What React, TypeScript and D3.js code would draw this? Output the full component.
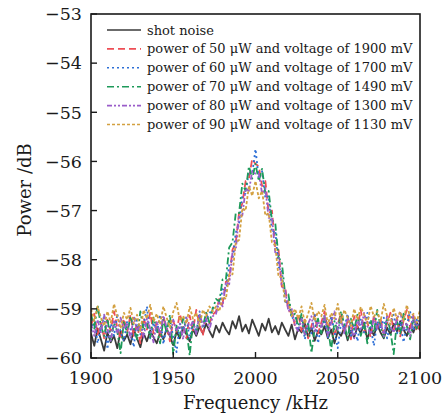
import React from "react";
import * as d3 from "d3";

const freqs: number[] = d3.range(1900, 2101, 2);

const shotNoise = [
  -59.50,-59.75,-59.40,-59.62,-59.85,-59.48,-59.68,-59.55,-59.80,-59.45,
  -59.65,-59.52,-59.72,-59.42,-59.60,-59.78,-59.50,-59.66,-59.44,-59.58,
  -59.70,-59.48,-59.62,-59.40,-59.56,-59.74,-59.46,-59.60,-59.38,-59.52,
  -59.66,-59.42,-59.55,-59.36,-59.50,-59.30,-59.45,-59.58,-59.34,-59.48,
  -59.28,-59.42,-59.52,-59.25,-59.40,-59.15,-59.46,-59.32,-59.50,-59.22,
  -59.38,-59.55,-59.30,-59.44,-59.20,-59.48,-59.35,-59.52,-59.28,-59.42,
  -59.55,-59.32,-59.62,-59.40,-59.48,-59.30,-59.58,-59.38,-59.65,-59.45,
  -59.52,-59.35,-59.60,-59.42,-59.70,-59.46,-59.55,-59.38,-59.64,-59.44,
  -59.58,-59.36,-59.50,-59.28,-59.62,-59.40,-59.54,-59.32,-59.48,-59.60,
  -59.38,-59.52,-59.30,-59.46,-59.25,-59.42,-59.55,-59.34,-59.48,-59.28,-59.44,
];

const power50 = [
  -59.35,-59.10,-59.52,-59.28,-59.60,-59.22,-59.45,-59.05,-59.38,-59.62,
  -59.20,-59.48,-59.12,-59.55,-59.30,-59.70,-59.18,-59.42,-59.08,-59.50,
  -59.27,-59.58,-59.15,-59.40,-59.66,-59.24,-59.46,-59.10,-59.36,-59.60,
  -59.14,-59.44,-59.02,-59.32,-59.55,-59.08,-59.30,-59.12,
  -59.05,-58.80,-58.90,-58.45,-58.40,-57.80,-57.65,-57.05,-56.85,-56.40,-56.35,-55.95,
  -56.05,-56.10,-56.50,-56.40,-57.05,-57.00,-57.75,-57.80,-58.55,-58.55,-59.05,-59.05,-59.35,
  -59.10,-59.45,-59.22,-59.60,-59.35,-59.12,-59.50,
  -59.28,-59.05,-59.42,-59.18,-59.55,-59.32,-59.08,-59.46,-59.25,-59.62,
  -59.15,-59.38,-59.02,-59.48,-59.26,-59.58,-59.12,-59.40,-59.20,-59.52,
  -59.30,-59.08,-59.44,-59.18,-59.56,-59.24,-59.02,-59.38,-59.14,-59.46,-59.28,
];

const power60 = [
  -59.45,-59.20,-59.70,-59.38,-59.15,-59.82,-59.30,-59.55,-59.10,-59.48,
  -59.65,-59.25,-59.40,-59.78,-59.18,-59.52,-59.34,-58.95,-59.60,-59.28,
  -59.50,-59.12,-59.72,-59.36,-59.22,-59.58,-59.88,-59.30,-59.44,-59.16,
  -59.62,-59.26,-59.48,-59.05,-59.40,-59.20,-59.10,-58.98,
  -58.95,-58.95,-58.60,-58.65,-58.10,-58.00,-57.45,-57.25,-56.70,-56.65,-56.20,-56.25,
  -55.75,-56.35,-56.20,-56.75,-56.70,-57.45,-57.40,-58.15,-58.20,-58.90,-58.80,-59.20,-59.15,
  -59.40,-59.18,-59.62,-59.30,-59.50,-59.12,-59.70,
  -59.35,-59.22,-59.58,-59.15,-59.45,-59.80,-59.28,-59.40,-59.10,-59.55,
  -59.32,-59.66,-59.20,-59.48,-59.08,-59.38,-59.75,-59.25,-59.42,-59.18,
  -59.60,-59.30,-59.12,-59.50,-59.26,-59.68,-59.34,-59.05,-59.44,-59.22,-59.36,
];

const power70 = [
  -59.10,-59.40,-58.92,-59.35,-59.55,-59.20,-59.65,-59.28,-59.46,-59.90,
  -59.25,-59.50,-59.15,-59.38,-59.62,-59.05,-59.44,-59.30,-59.58,-59.18,
  -59.40,-59.70,-59.22,-59.48,-59.12,-59.92,-59.34,-59.56,-59.20,-59.42,
  -59.95,-59.26,-59.50,-59.16,-59.36,-59.08,-59.28,-59.00,
  -58.80,-58.85,-58.40,-58.40,-57.75,-57.65,-57.05,-57.05,-56.45,-56.60,-56.10,-56.35,
  -56.05,-56.40,-56.15,-56.65,-56.60,-57.20,-57.25,-57.95,-58.05,-58.70,-58.70,-59.15,-59.10,
  -59.35,-59.10,-59.55,-59.28,-59.90,-59.40,-59.20,
  -59.50,-59.15,-59.38,-59.85,-59.25,-59.46,-59.05,-59.32,-59.60,-59.20,
  -59.42,-59.12,-59.55,-59.30,-59.70,-59.22,-59.48,-59.02,-59.36,-59.58,
  -59.18,-59.44,-59.92,-59.26,-59.50,-59.10,-59.35,-59.62,-59.20,-59.40,-59.15,
];

const power80 = [
  -59.30,-59.55,-59.22,-59.48,-59.12,-59.40,-59.65,-59.25,-59.50,-59.18,
  -59.42,-59.28,-59.60,-59.15,-59.45,-59.32,-59.58,-59.20,-59.40,-59.68,
  -59.26,-59.50,-59.14,-59.38,-59.55,-59.22,-59.46,-59.30,-59.62,-59.18,
  -59.40,-59.24,-59.52,-59.10,-59.35,-59.20,-59.42,-59.15,
  -59.10,-58.85,-58.95,-58.45,-58.50,-57.85,-57.80,-57.10,-57.10,-56.55,-56.60,-56.20,
  -56.25,-56.25,-56.65,-56.55,-57.15,-57.15,-57.85,-57.90,-58.55,-58.60,-59.05,-59.00,-59.35,
  -59.45,-59.20,-59.52,-59.30,-59.15,-59.48,-59.25,
  -59.40,-59.12,-59.55,-59.28,-59.05,-59.42,-59.22,-59.50,-59.16,-59.38,
  -59.60,-59.20,-59.44,-59.08,-59.35,-59.52,-59.18,-59.40,-59.25,-59.56,
  -59.14,-59.36,-59.48,-59.20,-59.05,-59.42,-59.28,-59.55,-59.16,-59.34,-59.22,
];

const power90 = [
  -59.00,-59.25,-58.95,-59.18,-59.35,-59.05,-59.28,-58.90,-59.15,-59.40,
  -59.08,-59.22,-58.98,-59.30,-59.12,-59.45,-59.02,-59.20,-58.92,-59.26,
  -59.10,-59.32,-58.95,-59.18,-59.38,-59.06,-58.88,-59.24,-59.14,-59.30,
  -58.96,-59.20,-59.08,-59.34,-59.02,-59.15,-58.95,-59.05,
  -58.95,-59.05,-58.75,-58.80,-58.30,-58.30,-57.65,-57.60,-56.95,-57.00,-56.50,-56.70,
  -56.40,-56.75,-56.60,-57.10,-57.05,-57.65,-57.70,-58.35,-58.35,-58.85,-58.85,-59.15,-59.00,
  -59.20,-58.95,-59.30,-59.10,-58.88,-59.25,-59.05,
  -59.15,-58.92,-59.32,-59.08,-59.20,-58.90,-59.28,-59.02,-59.18,-59.35,
  -59.00,-59.22,-58.96,-59.12,-59.30,-58.94,-59.16,-59.05,-59.26,-58.90,
  -59.14,-59.32,-58.98,-59.20,-59.06,-59.24,-58.92,-59.18,-59.10,-59.28,-59.02,
];

const seriesLabels = [
  "shot noise",
  "power of 50 \u03bcW and voltage of 1900 mV",
  "power of 60 \u03bcW and voltage of 1700 mV",
  "power of 70 \u03bcW and voltage of 1490 mV",
  "power of 80 \u03bcW and voltage of 1300 mV",
  "power of 90 \u03bcW and voltage of 1130 mV",
];
const seriesValues = [shotNoise, power50, power60, power70, power80, power90];
const seriesColors = ["#3a3a3a", "#ee4e55", "#2d6fd6", "#1e9a5a", "#9a5cc9", "#d3a040"];
const seriesDash = ["none", "7,4", "2,3", "7,3,2,3", "5,2,2,2,2,2", "3,2"];

const xTicks = [1900, 1950, 2000, 2050, 2100];
const yTicks = [-60, -59, -58, -57, -56, -55, -54, -53];

const W = 446;
const H = 419;
const M = { left: 91, right: 420, top: 14, bottom: 358 };
const FONT = "'DejaVu Serif', serif";

export default function App() {
  const x = d3.scaleLinear().domain([1900, 2100]).range([M.left, M.right]);
  const y = d3.scaleLinear().domain([-60, -53]).range([M.bottom, M.top]);
  const line = d3
    .line<number>()
    .x((_, i) => x(freqs[i]))
    .y((d) => y(d));

  return (
    <svg
      width={W}
      height={H}
      style={{ position: "absolute", left: 0, top: 0, background: "#fff" }}
      fontFamily={FONT}
    >
      <defs>
        <clipPath id="plotclip">
          <rect x={M.left} y={M.top} width={M.right - M.left} height={M.bottom - M.top} />
        </clipPath>
      </defs>
      <g clipPath="url(#plotclip)">
        {seriesValues.map((vals, k) => (
          <path
            key={k}
            d={line(vals) || ""}
            fill="none"
            stroke={seriesColors[k]}
            strokeWidth={1.8}
            strokeDasharray={seriesDash[k] === "none" ? undefined : seriesDash[k]}
            strokeLinejoin="round"
          />
        ))}
      </g>
      <rect
        x={M.left}
        y={M.top}
        width={M.right - M.left}
        height={M.bottom - M.top}
        fill="none"
        stroke="#1a1a1a"
        strokeWidth={1.6}
      />
      {yTicks.map((t) => (
        <g key={"y" + t}>
          <line x1={M.left} x2={M.left + 6} y1={y(t)} y2={y(t)} stroke="#1a1a1a" strokeWidth={1.4} />
          <text x={M.left - 9} y={y(t)} dy="0.36em" textAnchor="end" fontSize={17.5} fill="#1a1a1a">
            {"\u2212" + Math.abs(t)}
          </text>
        </g>
      ))}
      {xTicks.map((t) => (
        <g key={"x" + t}>
          <line x1={x(t)} x2={x(t)} y1={M.bottom} y2={M.bottom - 6} stroke="#1a1a1a" strokeWidth={1.4} />
          <text x={x(t)} y={M.bottom + 26} textAnchor="middle" fontSize={17.5} fill="#1a1a1a">
            {t}
          </text>
        </g>
      ))}
      <text x={(M.left + M.right) / 2} y={409} textAnchor="middle" fontSize={18} fill="#1a1a1a">
        Frequency /kHz
      </text>
      <text
        transform={`translate(31, ${(M.top + M.bottom) / 2 + 4}) rotate(-90)`}
        textAnchor="middle"
        fontSize={18}
        fill="#1a1a1a"
      >
        Power /dB
      </text>
      {seriesLabels.map((lab, k) => {
        const ly = 30 + k * 18.9;
        return (
          <g key={"l" + k}>
            <line
              x1={107}
              x2={141}
              y1={ly}
              y2={ly}
              stroke={seriesColors[k]}
              strokeWidth={1.6}
              strokeDasharray={seriesDash[k] === "none" ? undefined : seriesDash[k]}
            />
            <text x={147} y={ly} dy="0.35em" fontSize={13} fill="#1a1a1a">
              {lab}
            </text>
          </g>
        );
      })}
    </svg>
  );
}
